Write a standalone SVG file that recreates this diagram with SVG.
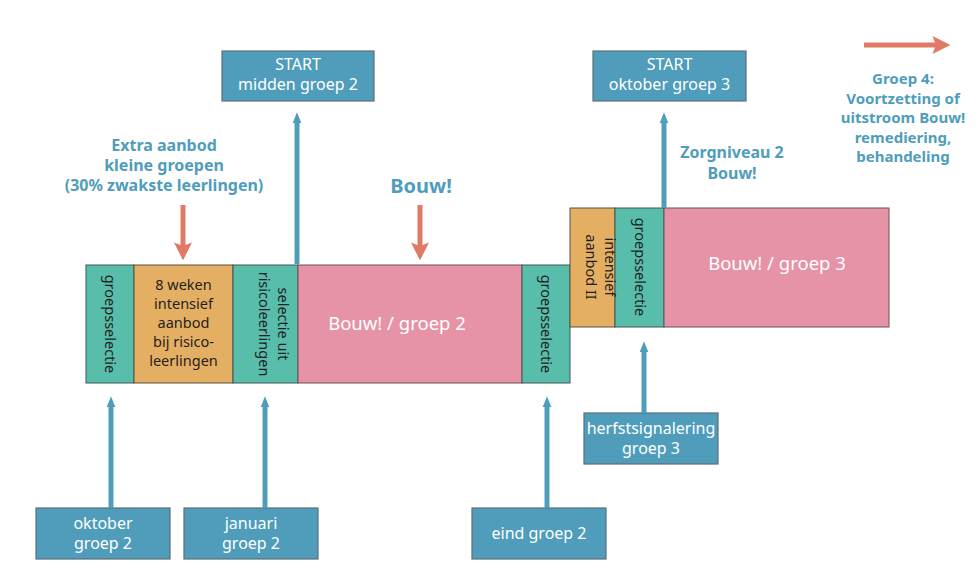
<svg xmlns="http://www.w3.org/2000/svg" width="979" height="568" viewBox="0 0 979 568">
<defs>
<style>
text{font-family:"Noto Sans",Lato,"DejaVu Sans",sans-serif;}
.box{fill:#4F9DBB;stroke:#5a6f78;stroke-width:1.2;}
.bt{fill:#ffffff;font-size:16px;text-anchor:middle;}
.teal{fill:#58BDAB;stroke:#3d5a55;stroke-width:1;}
.org{fill:#E5AF63;stroke:#5a5040;stroke-width:1;}
.pink{fill:#E693A7;stroke:#6a5058;stroke-width:1;}
.dt{fill:#1f1f1f;font-size:14.5px;text-anchor:middle;}
.pt{fill:#ffffff;font-size:18.5px;text-anchor:middle;}
.lab{fill:#4F9DBB;font-size:16px;font-weight:bold;text-anchor:middle;}
.blue{stroke:#4F9DBB;stroke-width:5;fill:none;marker-end:url(#bh);}
.red{stroke:#E07A64;stroke-width:5;fill:none;marker-end:url(#rh);}
</style>
<marker id="bh" viewBox="0 0 10 20" refX="2" refY="10" markerWidth="2.2" markerHeight="4.4" orient="auto" markerUnits="strokeWidth">
<path d="M0,6 L10,10 L0,14 Z" fill="#4F9DBB"/>
</marker>
<marker id="rh" viewBox="0 0 10 10" refX="2" refY="5" markerWidth="3.6" markerHeight="3.6" orient="auto" markerUnits="strokeWidth">
<path d="M0,0 L10,5 L0,10 L2,5 Z" fill="#E07A64"/>
</marker>
</defs>

<g id="bar1">
<rect class="teal" x="86" y="265" width="48" height="118"/>
<rect class="org" x="134" y="265" width="99" height="118"/>
<rect class="teal" x="233" y="265" width="65" height="118"/>
<rect class="pink" x="298" y="265" width="224" height="118"/>
<rect class="teal" x="522" y="265" width="48" height="118"/>
</g>
<g id="n-groepsselectie1"><text class="dt" transform="translate(110,324) rotate(90)" dy="5">groepsselectie</text></g>
<g id="n-8weken"><text class="dt" x="183.5" y="290">8 weken<tspan x="183.5" dy="19">intensief</tspan><tspan x="183.5" dy="19">aanbod</tspan><tspan x="183.5" dy="19">bij risico-</tspan><tspan x="183.5" dy="19">leerlingen</tspan></text></g>
<g id="n-selectie"><text class="dt" transform="translate(265.5,324) rotate(90)"><tspan x="0" y="-12">selectie uit</tspan><tspan x="0" y="7">risicoleerlingen</tspan></text></g>
<g id="n-bouw2"><text class="pt" x="397" y="330">Bouw! / groep 2</text></g>
<g id="n-groepsselectie2"><text class="dt" transform="translate(546,324) rotate(90)" dy="5">groepsselectie</text></g>

<g id="bar2">
<rect class="org" x="570" y="208" width="45" height="119"/>
<rect class="teal" x="615" y="208" width="49" height="119"/>
<rect class="pink" x="664" y="208" width="225" height="119"/>
</g>
<g id="n-intensief2"><text class="dt" transform="translate(592.5,267) rotate(90)"><tspan x="0" y="-12">intensief</tspan><tspan x="0" y="7">aanbod II</tspan></text></g>
<g id="n-groepsselectie3"><text class="dt" transform="translate(639.5,267) rotate(90)" dy="5">groepsselectie</text></g>
<g id="n-bouw3"><text class="pt" x="777" y="270">Bouw! / groep 3</text></g>

<g id="n-start2"><rect class="box" x="222" y="51" width="152" height="50"/><text class="bt" x="298" y="70">START<tspan x="298" dy="20">midden groep 2</tspan></text></g>
<g id="n-start3"><rect class="box" x="593" y="51" width="153" height="50"/><text class="bt" x="669.5" y="70">START<tspan x="669.5" dy="20">oktober groep 3</tspan></text></g>
<g id="n-herfst"><rect class="box" x="584" y="413" width="134" height="51"/><text class="bt" x="651" y="434">herfstsignalering<tspan x="651" dy="20">groep 3</tspan></text></g>
<g id="n-okt2"><rect class="box" x="36" y="508" width="134" height="51"/><text class="bt" x="103" y="529">oktober<tspan x="103" dy="20">groep 2</tspan></text></g>
<g id="n-jan2"><rect class="box" x="184" y="508" width="134" height="51"/><text class="bt" x="251" y="529">januari<tspan x="251" dy="20">groep 2</tspan></text></g>
<g id="n-eind2"><rect class="box" x="472" y="508" width="134" height="51"/><text class="bt" x="539" y="539">eind groep 2</text></g>

<g id="labels">
<text class="lab" x="164" y="151">Extra aanbod<tspan x="164" dy="20">kleine groepen</tspan><tspan x="164" dy="20">(30% zwakste leerlingen)</tspan></text>
<text class="lab" x="421" y="193" style="font-size:20px">Bouw!</text>
<text class="lab" x="732" y="158">Zorgniveau 2<tspan x="732" dy="21">Bouw!</tspan></text>
<text class="lab" x="903" y="84" style="font-size:15px">Groep 4:<tspan x="903" dy="19.5">Voortzetting of</tspan><tspan x="903" dy="19.5">uitstroom Bouw!</tspan><tspan x="903" dy="19.5">remediering,</tspan><tspan x="903" dy="19.5">behandeling</tspan></text>
</g>

<g id="connectors">
<line class="blue" x1="297" y1="264" x2="297" y2="121"/>
<line class="blue" x1="664" y1="208" x2="664" y2="121"/>
<line class="blue" x1="111" y1="508" x2="111" y2="405"/>
<line class="blue" x1="265" y1="508" x2="265" y2="405"/>
<line class="blue" x1="547" y1="508" x2="547" y2="405"/>
<line class="blue" x1="644" y1="413" x2="644" y2="350"/>
<line class="red" x1="183" y1="205" x2="183" y2="246"/>
<line class="red" x1="420" y1="205" x2="420" y2="246"/>
<line class="red" x1="864" y1="45" x2="936" y2="45"/>
</g>
</svg>
